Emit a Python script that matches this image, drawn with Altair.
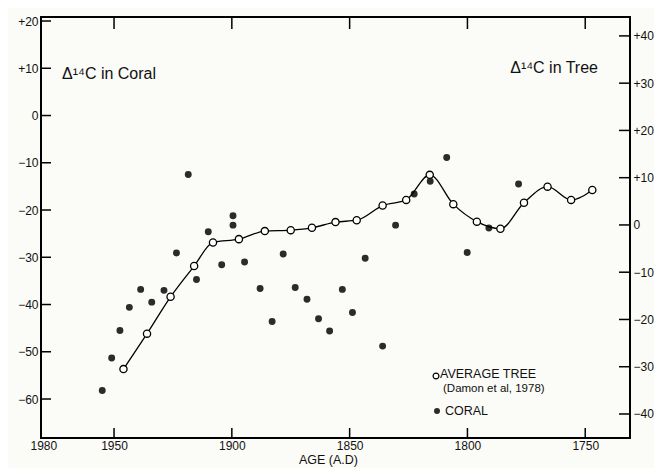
import altair as alt
import pandas as pd

# ---- data ----
coral_year = [1955.0, 1951.0, 1947.5, 1943.5, 1938.7, 1934.0, 1928.8, 1923.5, 1918.5, 1915.0,
              1910.0, 1904.3, 1899.5, 1899.5, 1894.6, 1888.0, 1882.9, 1878.2, 1873.1, 1868.1,
              1863.2, 1858.5, 1853.1, 1848.8, 1843.4, 1836.0, 1830.5, 1822.6, 1815.8, 1808.8,
              1800.1, 1790.9, 1778.3]
coral_d14c = [-58.2, -51.3, -45.5, -40.6, -36.8, -39.5, -37.0, -29.1, -12.5, -34.7,
              -24.6, -31.6, -21.2, -23.2, -31.0, -36.6, -43.6, -29.3, -36.4, -38.9,
              -43.0, -45.6, -36.8, -41.7, -30.2, -48.8, -23.2, -16.6, -13.9, -8.9,
              -29.0, -23.8, -14.5]

tree_year = [1946, 1936, 1926, 1916, 1908, 1897, 1886, 1875, 1866, 1856, 1847,
             1836, 1826, 1816, 1806, 1796, 1786, 1776, 1766, 1756, 1747]
tree_d14c = [-30.5, -23.0, -15.2, -8.7, -3.7, -3.0, -1.3, -1.1, -0.6, 0.6, 1.0,
             4.1, 5.3, 10.6, 4.4, 0.7, -0.8, 4.7, 8.1, 5.3, 7.4]

x_ticks = [1980, 1950, 1900, 1850, 1800, 1750]
left_ticks = [20, 10, 0, -10, -20, -30, -40, -50, -60]
right_ticks = [40, 30, 20, 10, 0, -10, -20, -30, -40]

coral_df = pd.DataFrame({"year": coral_year, "d14c": coral_d14c})
tree_df = pd.DataFrame({"year": tree_year, "d14c": tree_d14c})
xt_df = pd.DataFrame({"year": x_ticks[1:]})
lt_df = pd.DataFrame({"v": left_ticks})
rt_df = pd.DataFrame({"v": right_ticks})

W, H = 589, 421
FONT = "Liberation Sans"

xscale = alt.Scale(domain=[1731, 1981], reverse=True, nice=False, zero=False)
lscale = alt.Scale(domain=[-68.25, 20.85], nice=False, zero=False)
rscale = alt.Scale(domain=[-45.08, 44.0], nice=False, zero=False)

x_axis = alt.Axis(values=x_ticks, format="d", tickSize=0, domain=False, grid=False,
                  labelPadding=2, labelFontSize=12, labelFlush=False,
                  title="AGE (A.D)", titleFontSize=12.5, titleFontWeight="normal",
                  titlePadding=2, titleX=287)
plus_expr = "datum.value > 0 ? '+' + datum.label : datum.label"
l_axis = alt.Axis(values=left_ticks, tickSize=0, domain=False, grid=False,
                  labelPadding=3, labelFontSize=12, labelExpr=plus_expr, title=None)
r_axis = alt.Axis(orient="right", values=right_ticks, tickSize=0, domain=False, grid=False,
                  labelPadding=3, labelFontSize=12, labelExpr=plus_expr, title=None)


def xenc(field="year"):
    return alt.X(f"{field}:Q", scale=xscale, axis=x_axis)


coral = alt.Chart(coral_df).mark_circle(size=48, color="#2b2b2b", opacity=1).encode(
    x=xenc(), y=alt.Y("d14c:Q", scale=lscale, axis=l_axis)
)
tree_line = alt.Chart(tree_df).mark_line(color="black", strokeWidth=1.3, interpolate="monotone").encode(
    x=xenc(), y=alt.Y("d14c:Q", scale=rscale, axis=None)
)
tree_pts = alt.Chart(tree_df).mark_point(size=52, shape="circle", filled=True, fill="white",
                                         stroke="black", strokeWidth=1.3, opacity=1).encode(
    x=xenc(), y=alt.Y("d14c:Q", scale=rscale, axis=r_axis)
)

ltick = alt.Chart(lt_df).mark_rule(color="black", strokeWidth=1.5).encode(
    y=alt.Y("v:Q", scale=lscale, axis=None), x=alt.value(0), x2=alt.value(10))
rtick = alt.Chart(rt_df).mark_rule(color="black", strokeWidth=1.5).encode(
    y=alt.Y("v:Q", scale=rscale, axis=None), x=alt.value(W - 11), x2=alt.value(W))
ttick = alt.Chart(xt_df).mark_rule(color="black", strokeWidth=1.5).encode(
    x=xenc(), y=alt.value(0), y2=alt.value(12))
btick = alt.Chart(xt_df).mark_rule(color="black", strokeWidth=1.5).encode(
    x=xenc(), y=alt.value(H - 10), y2=alt.value(H))


def label(txt, x, y, size, align="left"):
    return alt.Chart(pd.DataFrame({"t": [txt]})).mark_text(
        font=FONT, fontSize=size, align=align, baseline="middle", color="#111"
    ).encode(x=alt.value(x), y=alt.value(y), text="t:N")


t_coral = label("\u0394\u00b9\u2074C in Coral", 21, 57, 16)
t_tree = label("\u0394\u00b9\u2074C in Tree", 557, 51, 16, align="right")
t_avg = label("AVERAGE TREE", 399, 357, 12.5)
t_dam = label("(Damon et al, 1978)", 402, 372, 11.5)
t_cor = label("CORAL", 404, 394, 12.5)

sym_df = pd.DataFrame({"k": ["tree"]})
sym_tree = alt.Chart(sym_df).mark_point(size=34, shape="circle", filled=True, fill="white",
                                        stroke="black", strokeWidth=1.2, opacity=1).encode(
    x=alt.value(395), y=alt.value(359))
sym_coral = alt.Chart(sym_df).mark_circle(size=36, color="#2b2b2b", opacity=1).encode(
    x=alt.value(396), y=alt.value(394))

chart = alt.layer(
    ltick, rtick, ttick, btick, coral, tree_line, tree_pts,
    t_coral, t_tree, t_avg, t_dam, t_cor, sym_tree, sym_coral
).resolve_scale(y="independent").properties(
    width=W, height=H,
    padding={"left": 33, "top": 9, "right": 24, "bottom": 30},
    autosize=alt.AutoSizeParams(type="none"),
    background="#fbfbf7",
).configure_view(
    stroke="black", strokeWidth=2
).configure_axis(
    labelFont=FONT, titleFont=FONT, labelColor="#111", titleColor="#111"
)

chart.save("out.html", embed_options={"renderer": "svg", "actions": False})
